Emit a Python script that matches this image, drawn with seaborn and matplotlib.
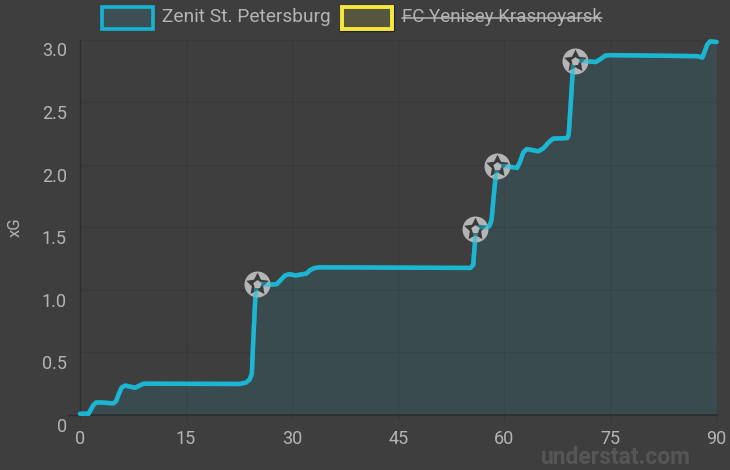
import matplotlib
matplotlib.use('Agg')
import matplotlib.pyplot as plt
import matplotlib.transforms as mtrans
from matplotlib.patches import Rectangle
from matplotlib.lines import Line2D
import pandas as pd
import seaborn as sns

# xG-Verlauf, Werte
minutes = [0, 1.2, 1.5, 1.9, 2.3, 3, 4.7, 5.1, 5.5, 5.9, 6.4, 7.8, 8.4, 9, 10, 22.6, 23.5, 24, 24.3, 24.5, 24.8, 25,
           25.5, 26.6, 27.8, 28.4, 29, 29.6, 30.5, 32, 32.6, 33.2, 34, 55.2, 55.6, 55.8, 56, 56.5, 57.5, 57.9, 58.2,
           58.5, 58.8, 59.2, 60, 61.8, 62.2, 62.7, 63.2, 64.8, 65.5, 66.3, 66.9, 68.9, 69.1, 69.4, 69.7, 70, 71,
           72.9, 73.5, 74.3, 75, 87.3, 88, 88.3, 88.7, 89.1, 90]
xg = [0.01, 0.01, 0.04, 0.08, 0.10, 0.10, 0.093, 0.11, 0.17, 0.22, 0.235, 0.218, 0.235, 0.25, 0.25, 0.248, 0.26, 0.285,
      0.33, 0.6, 0.95, 1.03, 1.05, 1.04, 1.045, 1.08, 1.115, 1.125, 1.115, 1.13, 1.16, 1.175, 1.18, 1.175, 1.2, 1.35,
      1.49, 1.5, 1.5, 1.51, 1.56, 1.75, 1.92, 1.99, 1.99, 1.974, 2.02, 2.1, 2.125, 2.107, 2.13, 2.18, 2.208, 2.213,
      2.24, 2.5, 2.78, 2.83, 2.83, 2.82, 2.84, 2.872, 2.875, 2.867, 2.856, 2.9, 2.96, 2.985, 2.98]
goal_minutes = [25, 55.9, 59, 70]
goal_xg = [1.05, 1.49, 1.99, 2.83]
x_ticks = [0, 15, 30, 45, 60, 75, 90]
y_ticks = [0, 0.5, 1.0, 1.5, 2.0, 2.5, 3.0]
y_tick_labels = ['0', '0.5', '1.0', '1.5', '2.0', '2.5', '3.0']
team_names = ['Zenit St. Petersburg', 'FC Yenisey Krasnoyarsk']

BG = '#3e3e3e'
CYAN = '#1bb6d1'
TEXT = '#b4b4b4'
W, H = 730, 470

sns.set_theme(style='dark')
plt.rcParams['font.family'] = ['Roboto', 'DejaVu Sans']

fig = plt.figure(figsize=(W / 100, H / 100), dpi=100, facecolor=BG)
ax = fig.add_axes([80 / W, 1 - 415 / H, 636.5 / W, 375.5 / H], facecolor=BG)

df = pd.DataFrame({'minute': minutes, 'xg': xg})
ax.fill_between(df['minute'], df['xg'], 0, color='#3a4b50', lw=0, zorder=1)
ax.grid(True, color='black', alpha=0.07, lw=1)
ax.set_axisbelow(False)
for line in ax.get_xgridlines() + ax.get_ygridlines():
    line.set_zorder(1.5)
sns.lineplot(data=df, x='minute', y='xg', ax=ax, color=CYAN, lw=3.2, zorder=3,
             solid_joinstyle='round', solid_capstyle='round', clip_on=False)

# Tor-Symbole
ax.scatter(goal_minutes, goal_xg, s=350, color='#c2c2c2', alpha=0.9, lw=0, zorder=4, clip_on=False)
ax.scatter(goal_minutes, goal_xg, s=290, marker=(5, 1, 0), color='#3a3a3a', lw=0, zorder=5, clip_on=False)
sns.lineplot(data=df, x='minute', y='xg', ax=ax, color=CYAN, lw=3.2, alpha=0.55, zorder=5.5,
             solid_joinstyle='round', clip_on=False)
ax.scatter(goal_minutes, goal_xg, s=40, marker=(5, 0, 0), color='#b8b8b8', lw=0, zorder=6, clip_on=False)

ax.set_xlim(0, 90)
ax.set_ylim(0, 3.0)
ax.set_xticks(x_ticks)
ax.set_yticks(y_ticks)
ax.set_yticklabels(y_tick_labels)
ax.set_xlabel('')
ax.set_ylabel('')
ax.tick_params(axis='x', length=4.5, width=1, color='#383838', pad=6, labelsize=13, labelcolor=TEXT, bottom=True)
ax.tick_params(axis='y', length=0, pad=9.5, labelsize=13, labelcolor=TEXT, left=True)

# y-Beschriftungen sitzen unter der Gitterlinie
shift = mtrans.ScaledTranslation(0, -10 / 100, fig.dpi_scale_trans)
for lab in ax.get_yticklabels():
    lab.set_transform(lab.get_transform() + shift)
first = ax.yaxis.get_major_ticks()[0].tick1line
first.set_markersize(9.5)
first.set_markeredgecolor('#2c2c2c')
first.set_markeredgewidth(1)

for side in ['top', 'right']:
    ax.spines[side].set_visible(False)
ax.spines['left'].set_color('#333333')
ax.spines['left'].set_linewidth(1)
ax.spines['bottom'].set_color('#2c2c2c')
ax.spines['bottom'].set_linewidth(1.2)

fig.text(15 / W, 1 - 227 / H, 'xG', rotation=90, color=TEXT, fontsize=12, ha='center', va='center')

# Legende von Hand, in Pixeln gesetzt
def box(x0, x1, y0, y1, **kw):
    fig.add_artist(Rectangle((x0 / W, 1 - y1 / H), (x1 - x0) / W, (y1 - y0) / H,
                             transform=fig.transFigure, **kw))

box(101.5, 152.5, 6.5, 28.5, facecolor='#3b4f55', edgecolor='#16b4d2', lw=2.6)
box(340, 394, 5, 30.5, facecolor='none', edgecolor='#222222', lw=1)
box(342, 392, 7, 28.5, facecolor='#56563f', edgecolor='#f7e83e', lw=2.8)
fig.text(162 / W, 1 - 17.5 / H, team_names[0], color=TEXT, fontsize=13.8, ha='left', va='center')
fig.text(402 / W, 1 - 17.5 / H, team_names[1], color=TEXT, fontsize=13.5, ha='left', va='center')
fig.add_artist(Line2D([402 / W, 602 / W], [1 - 18 / H, 1 - 18 / H], color=TEXT, lw=1.1,
                      transform=fig.transFigure))

fig.text(615.5 / W, 1 - 458 / H, 'understat.com', color='#565656', fontsize=16.5, fontweight='bold',
         ha='center', va='center')

fig.savefig('out.png', dpi=100, facecolor=BG)
